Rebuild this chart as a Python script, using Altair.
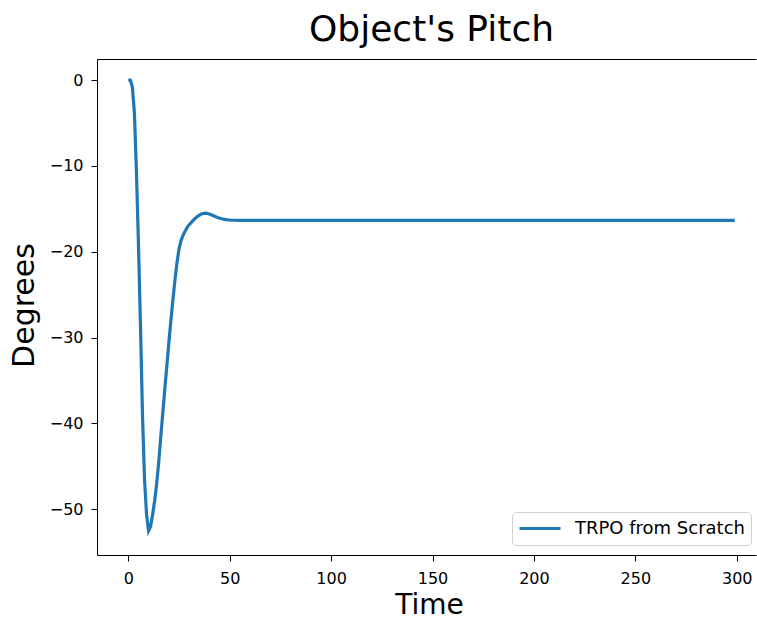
import altair as alt
import pandas as pd

# Data
time = [0, 1, 2, 3, 4, 5, 6, 7, 8, 9, 10, 11, 12, 13, 14, 15, 16, 17, 18, 19,
        20, 21, 22, 23, 24, 25, 26, 27, 28, 29, 30, 31, 32, 34, 36, 38, 40, 42,
        44, 46, 48, 50, 55, 60, 80, 100, 150, 200, 250, 299]
pitch = [0.0, 0.0, -0.8, -3.8, -10.5, -19.0, -28.5, -39.0, -46.5, -50.6,
         -52.5, -52.0, -50.6, -49.0, -47.0, -44.5, -41.6, -38.8, -36.0, -33.3,
         -30.6, -28.0, -25.6, -23.3, -21.3, -19.7, -18.7, -18.1, -17.6, -17.2,
         -16.85, -16.6, -16.35, -15.9, -15.6, -15.5, -15.6, -15.8,
         -16.0, -16.15, -16.25, -16.3, -16.35, -16.35, -16.35, -16.35, -16.35, -16.35, -16.35, -16.35]
series_name = "TRPO from Scratch"
x_ticks = [0, 50, 100, 150, 200, 250, 300]
y_ticks = [0, -10, -20, -30, -40, -50]

df = pd.DataFrame({"Time": time, "Pitch": pitch, "Series": [series_name] * len(time)})

FONT = "DejaVu Sans"
x_scale = alt.Scale(domain=[-15.43, 309.5], nice=False, zero=False)
y_scale = alt.Scale(domain=[-55.32, 2.45], nice=False, zero=False)

y_axis = alt.Axis(values=y_ticks, title="Degrees", titleX=-64, titleY=246,
                  titleAngle=270, titleBaseline="alphabetic", titleAlign="center",
                  titleFontSize=30, labelPadding=8)

line = alt.Chart(df).mark_line(strokeWidth=3.2, clip=True).encode(
    x=alt.X("Time:Q", scale=x_scale,
            axis=alt.Axis(values=x_ticks, title="Time", titleX=332, titleY=58,
                          titleBaseline="alphabetic", titleAlign="center",
                          titleFontSize=28, labelPadding=9)),
    y=alt.Y("Pitch:Q", scale=y_scale, axis=y_axis),
    color=alt.Color("Series:N", scale=alt.Scale(range=["#1f77b4"]),
                    legend=alt.Legend(title=None, orient="none", legendX=415, legendY=453,
                                      symbolType="stroke", symbolSize=1681,
                                      symbolStrokeWidth=3, labelFontSize=18,
                                      labelFont=FONT, labelColor="black", labelLimit=0,
                                      labelOffset=13, padding=6, clipHeight=21,
                                      fillColor="white", strokeColor="#d0d0d0",
                                      cornerRadius=4)),
)

top = alt.Chart(df).mark_line(opacity=0).encode(
    x=alt.X("Time:Q", scale=x_scale,
            axis=alt.Axis(orient="top", labels=False, ticks=False, title=None, domain=True)),
    y=alt.Y("Pitch:Q", scale=y_scale, axis=y_axis),
)

chart = alt.layer(line, top).resolve_axis(x="independent").properties(
    width=659, height=496,
    background="white",
    title=alt.Title("Object's Pitch", fontSize=36, font=FONT, fontWeight="normal",
                    color="black", anchor="middle", baseline="alphabetic",
                    offset=15, dx=5, dy=33, frame="group"),
    autosize=alt.AutoSizeParams(type="none"),
    padding={"left": 97, "top": 59, "right": 1, "bottom": 62},
).configure_view(stroke=None).configure_axis(
    grid=False, domainColor="black", tickColor="black", labelColor="black",
    titleColor="black", labelFont=FONT, titleFont=FONT, labelFontSize=16,
    titleFontWeight="normal", tickSize=6, domainWidth=1, tickWidth=1,
)

chart.save("out.html", embed_options={"renderer": "svg", "actions": False})
